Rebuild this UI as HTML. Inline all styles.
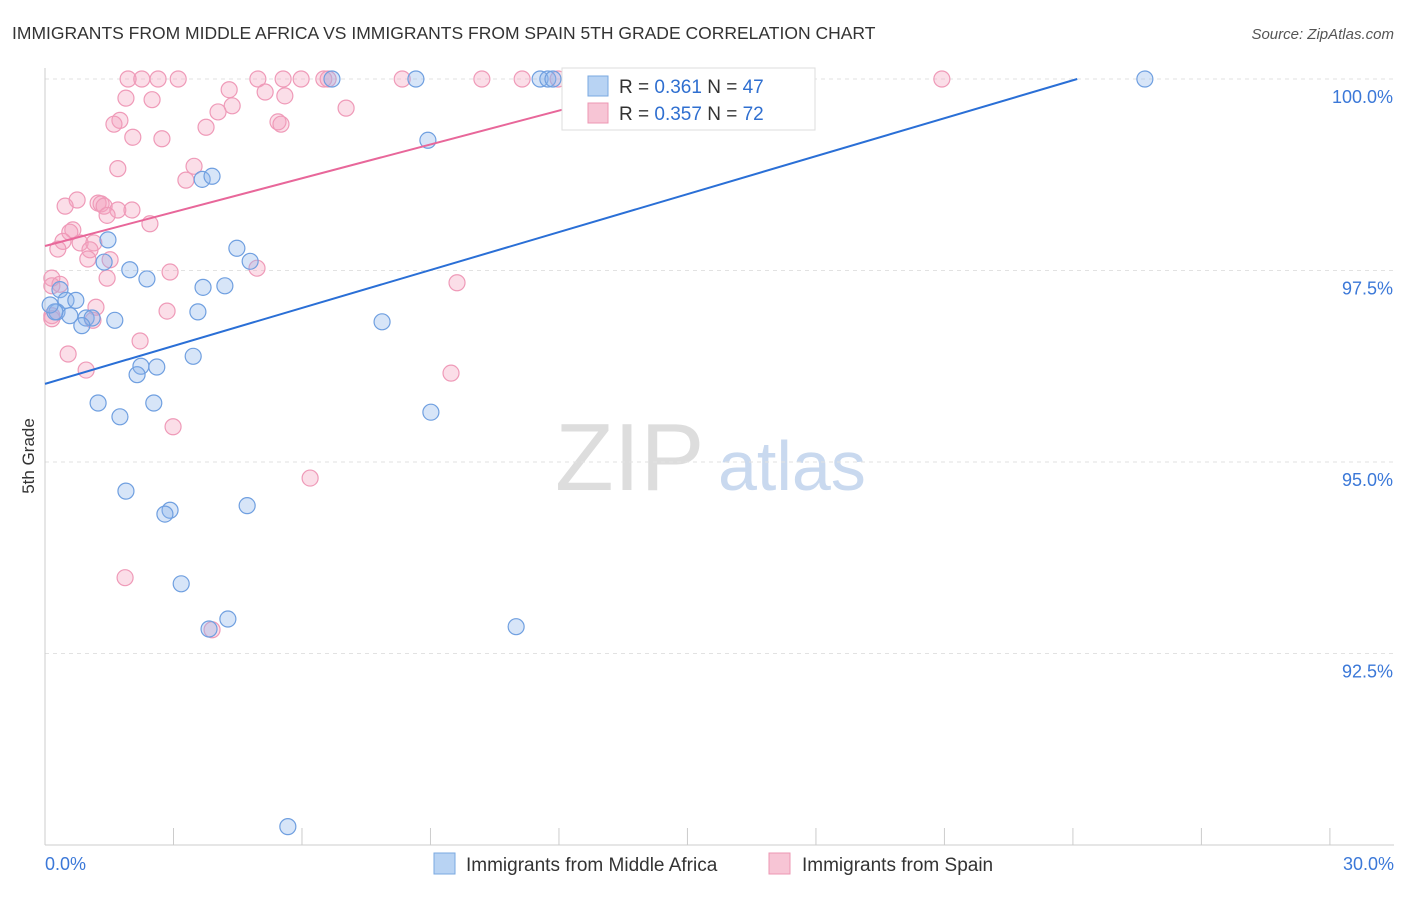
<!DOCTYPE html>
<html><head><meta charset="utf-8"><style>
body{margin:0;background:#fff;font-family:"Liberation Sans",sans-serif}
svg text{font-family:"Liberation Sans",sans-serif}
</style></head><body>
<svg id="c" width="1406" height="892">
<text x="12" y="39" font-size="17.5" fill="#333">IMMIGRANTS FROM MIDDLE AFRICA VS IMMIGRANTS FROM SPAIN 5TH GRADE CORRELATION CHART</text>
<text x="1394" y="39" font-size="15" fill="#555" font-style="italic" text-anchor="end">Source: ZipAtlas.com</text>
<text x="34" y="456" font-size="17" fill="#333" text-anchor="middle" transform="rotate(-90 34 456)">5th Grade</text>
<g><text x="555" y="490" font-size="96" fill="#ddd" font-family="Liberation Serif">ZIP</text><text x="718" y="490" font-size="70" fill="#c9d9ef">atlas</text></g>
<g id="grid"></g><g id="pts"></g><g id="lines"></g>
<g>
<rect x="562" y="68" width="253" height="62" fill="#fff" stroke="#ddd"/>
<rect x="588" y="76" width="20" height="20" fill="#b8d3f3" stroke="#7aa8e0"/>
<rect x="588" y="103" width="20" height="20" fill="#f7c5d5" stroke="#ec97b3"/>
<text x="619" y="93" font-size="19" fill="#333">R = <tspan fill="#2f6fd0">0.361</tspan>   N = <tspan fill="#2f6fd0">47</tspan></text>
<text x="619" y="120" font-size="19" fill="#333">R = <tspan fill="#2f6fd0">0.357</tspan>   N = <tspan fill="#2f6fd0">72</tspan></text>
</g>
<g>
<rect x="434" y="853" width="21" height="21" fill="#b8d3f3" stroke="#7aa8e0"/>
<text x="466" y="871" font-size="19" fill="#333">Immigrants from Middle Africa</text>
<rect x="769" y="853" width="21" height="21" fill="#f7c5d5" stroke="#ec97b3"/>
<text x="802" y="871" font-size="19" fill="#333">Immigrants from Spain</text>
</g>
</svg>
<script>
const blueX=[8.66,6.70,11.56,11.74,11.86,25.68,8.94,3.67,3.90,1.47,4.48,4.79,1.38,1.98,2.38,3.69,4.20,0.35,0.49,0.72,0.28,0.58,0.96,1.10,1.63,0.86,3.57,7.87,3.46,2.24,2.61,2.15,1.24,2.54,1.75,9.01,1.89,2.92,2.80,4.72,3.18,4.27,3.83,11.00,5.67,0.23,0.12];
const blueY=[100,100,100,100,100,100,99.20,98.69,98.73,97.90,97.79,97.62,97.61,97.51,97.39,97.28,97.30,97.25,97.11,97.11,96.96,96.91,96.88,96.88,96.85,96.78,96.96,96.83,96.38,96.25,96.24,96.14,95.77,95.77,95.59,95.65,94.62,94.37,94.32,94.43,93.41,92.95,92.82,92.85,90.24,96.96,97.05];
const pinkX=[1.94,2.26,2.64,3.11,4.97,5.56,5.98,6.51,6.61,8.34,10.20,11.14,11.98,16.55,20.94,4.30,5.14,5.60,1.89,2.50,4.37,7.03,4.04,1.75,1.61,5.44,5.51,3.76,2.05,2.73,3.48,1.70,3.29,0.75,0.47,1.24,1.31,1.38,1.70,2.03,1.45,2.45,0.65,0.58,0.42,0.82,1.14,0.30,1.05,1.00,1.52,2.92,4.95,0.16,1.45,0.16,0.35,1.19,2.85,0.16,0.16,1.12,2.22,0.54,0.96,9.48,2.99,6.19,1.87,3.90,9.62];
const pinkY=[100,100,100,100,100,100,100,100,100,100,100,100,100,100,100,99.86,99.83,99.78,99.75,99.73,99.65,99.62,99.57,99.46,99.41,99.44,99.41,99.37,99.24,99.22,98.86,98.83,98.68,98.42,98.34,98.38,98.37,98.34,98.29,98.29,98.22,98.11,98.03,98.00,97.88,97.86,97.86,97.78,97.77,97.65,97.64,97.48,97.53,97.40,97.40,97.30,97.32,97.02,96.97,96.91,96.87,96.85,96.58,96.41,96.20,96.16,95.46,94.79,93.49,92.81,97.34];
const blueLine=[96.02,100,24.10]; // intercept, end y, end x
const pinkLine=[97.82,100,14.8];
const yTicks=[100,97.5,95,92.5];
const xTickLabels=["0.0%","30.0%"];
const NS="http://www.w3.org/2000/svg";
const sx=v=>45+v*42.83, sy=v=>79+(100-v)*76.6;
function mk(t,a,p){const e=document.createElementNS(NS,t);for(const k in a)e.setAttribute(k,a[k]);p.appendChild(e);return e;}
const g=document.getElementById('grid');
yTicks.forEach(t=>{
 const l=mk('line',{x1:45,x2:1394,y1:sy(t),y2:sy(t),stroke:'#e2e2e2','stroke-dasharray':'4,4'},g);
 
 
 const tx=mk('text',{x:1393,y:sy(t)+24,'font-size':18,fill:'#3b78d8','text-anchor':'end'},g);
 tx.textContent=t.toFixed(1)+'%';
 
 
});
const ax=mk('line',{x1:45,x2:45,y1:68,y2:845,stroke:'#ccc'},g);


const bx=mk('line',{x1:45,x2:1394,y1:845,y2:845,stroke:'#ccc'},g);


for(let i=0;i<=10;i++){const t=mk('line',{x1:sx(i*3),x2:sx(i*3),y1:828,y2:845,stroke:'#ccc'},g);
 
 }
[[0,'start',45],[30,'end',1394]].forEach((d,i)=>{const t=mk('text',{x:d[2],y:870,'font-size':18,fill:'#3b78d8','text-anchor':d[1]},g);t.textContent=xTickLabels[i];
 
 });
const P=document.getElementById('pts');
pinkX.forEach((x,i)=>{const c=mk('circle',{cx:sx(x),cy:sy(pinkY[i]),r:8,fill:'rgba(244,160,190,0.35)',stroke:'#ef9ab8','stroke-width':1.2},P);
 
 });
blueX.forEach((x,i)=>{const c=mk('circle',{cx:sx(x),cy:sy(blueY[i]),r:8,fill:'rgba(140,180,235,0.35)',stroke:'#6f9fe0','stroke-width':1.2},P);
 
 });
const L=document.getElementById('lines');
const bl=mk('line',{x1:sx(0),y1:sy(blueLine[0]),x2:sx(blueLine[2]),y2:sy(blueLine[1]),stroke:'#2a6fd6','stroke-width':2},L);


const pl=mk('line',{x1:sx(0),y1:sy(pinkLine[0]),x2:sx(pinkLine[2]),y2:sy(pinkLine[1]),stroke:'#e8679a','stroke-width':2},L);


</script>
</body></html>
